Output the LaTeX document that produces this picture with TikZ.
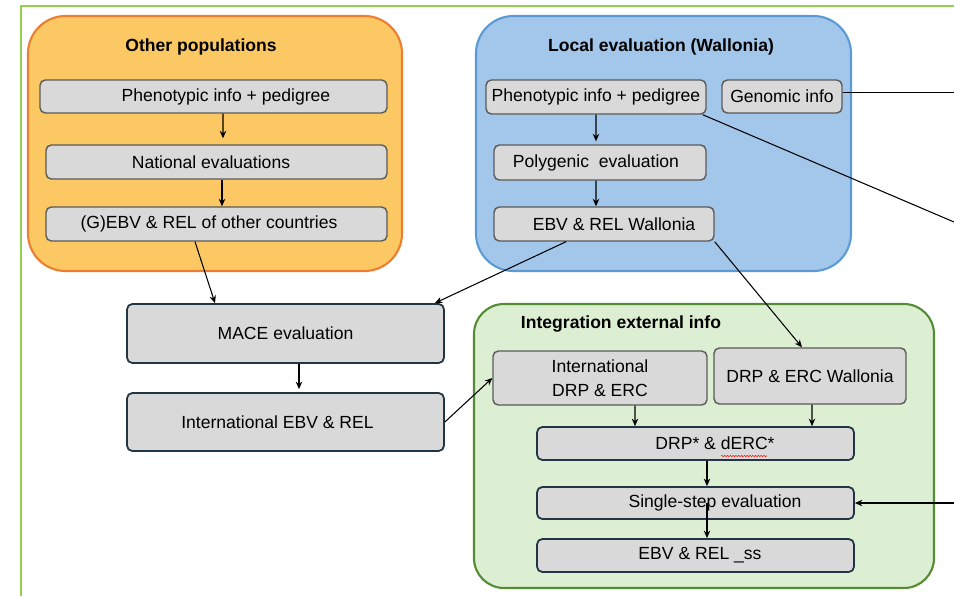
\documentclass[tikz,border=0pt]{standalone}
\usepackage{fontspec}
\setmainfont{Liberation Sans}
\usepackage{xcolor}
\usepackage{tikz}
\usetikzlibrary{arrows.meta,calc,decorations.pathmorphing}
\definecolor{framegreen}{RGB}{146,208,80}
\definecolor{popfill}{RGB}{251,200,100}
\definecolor{popedge}{RGB}{237,125,49}
\definecolor{localfill}{RGB}{163,199,234}
\definecolor{localedge}{RGB}{91,155,213}
\definecolor{integfill}{RGB}{221,239,210}
\definecolor{integedge}{RGB}{84,140,52}
\definecolor{boxgray}{RGB}{217,217,217}
\definecolor{boxedge}{RGB}{90,90,90}
\definecolor{slateedge}{RGB}{35,52,66}
\tikzset{
  frame-line/.style={draw=framegreen, line width=1.2pt},
  region-pop/.style={draw=popedge, fill=popfill, line width=1.2pt, rounded corners=0.75cm},
  region-local/.style={draw=localedge, fill=localfill, line width=1.2pt, rounded corners=0.75cm},
  region-integ/.style={draw=integedge, fill=integfill, line width=1.2pt, rounded corners=0.6cm},
  gray-node/.style={draw=boxedge, fill=boxgray, line width=0.8pt, rounded corners=3pt,
    inner xsep=2pt, inner ysep=2pt, align=center},
  slate-node/.style={gray-node, draw=slateedge, line width=1pt},
  title-text/.style={font=\bfseries},
  flow-line/.style={line width=0.6pt, draw=black},
  flow-arrow/.style={-{Stealth[length=1.5mm,width=1.3mm]}, line width=0.6pt, draw=black},
  spell-mark/.style={draw=red, line width=0.3pt, decorate,
    decoration={snake, amplitude=0.35pt, segment length=1.6pt}}
}
\begin{document}
\begin{tikzpicture}[x=0.02cm, y=-0.02cm]
\useasboundingbox (0,0) rectangle (954,596);
% Outer frame
\draw[frame-line] (21,596) -- (21,6) -- (954,6);

% Other populations
\draw[region-pop] (28,16) rectangle (402,271);
\node[title-text] (popTitle) at (201,47) {Other populations};
\node[gray-node, minimum width=6.94cm, minimum height=0.66cm] (phenO) at (213.5,96.5)
  {\hspace*{0.5cm}Phenotypic info + pedigree};
\node[gray-node, minimum width=6.82cm, minimum height=0.68cm] (natO) at (216.5,162)
  {National evaluations\hspace*{0.22cm}};
\node[gray-node, minimum width=6.82cm, minimum height=0.68cm] (gebvO) at (216.5,224)
  {(G)EBV \& REL of other countries\hspace*{0.3cm}};

% Local evaluation
\draw[region-local] (476,16) rectangle (851,271);
\node[title-text] (localTitle) at (661,47) {Local evaluation (Wallonia)};
\node[gray-node, minimum width=4.4cm, minimum height=0.68cm] (phenW) at (596,97)
  {Phenotypic info + pedigree};
\node[gray-node, minimum width=2.4cm, minimum height=0.66cm] (genW) at (782,96.5)
  {Genomic info};
\node[gray-node, minimum width=4.24cm, minimum height=0.7cm] (polyW) at (600,162.5)
  {Polygenic~ evaluation\hspace*{0.16cm}};
\node[gray-node, minimum width=4.4cm, minimum height=0.68cm] (ebvW) at (604,224)
  {\hspace*{0.4cm}EBV \& REL Wallonia};

% International evaluation
\node[slate-node, minimum width=6.34cm, minimum height=1.18cm] (mace) at (285.5,333.5)
  {MACE evaluation};
\node[slate-node, minimum width=6.34cm, minimum height=1.16cm] (intEBV) at (285.5,422)
  {International EBV \& REL\hspace*{0.32cm}};

% Integration external info
\draw[region-integ] (474,304) rectangle (934,588);
\node[title-text] (integTitle) at (621,324) {Integration external info};
\node[gray-node, minimum width=4.28cm, minimum height=1.08cm, font=\fontsize{10}{13.5}\selectfont]
  (intDRP) at (600,378) {International\\DRP \& ERC};
\node[gray-node, minimum width=3.84cm, minimum height=1.12cm] (drpW) at (810,376)
  {DRP \& ERC Wallonia};
\node[slate-node, minimum width=6.34cm, minimum height=0.66cm] (drpStar) at (695.5,443.5)
  {\hspace*{0.78cm}DRP* \& dERC*};
\node[slate-node, minimum width=6.34cm, minimum height=0.64cm] (ss) at (695.5,503)
  {\hspace*{0.78cm}Single-step evaluation};
\node[slate-node, minimum width=6.34cm, minimum height=0.66cm] (ebvSS) at (695.5,555.5)
  {\hspace*{0.18cm}EBV \& REL \_ss};
\draw[spell-mark] (721,456) -- (767,456);

% Ends at the right edge
\coordinate (genOut) at (954,92.5);
\coordinate (phenOut) at (954,222);
\coordinate (ssIn) at (954,503);

% Arrows
\draw[flow-arrow] ([xshift=0.19cm]phenO.south) -- ([xshift=0.13cm,yshift=0.12cm]natO.north);
\draw[flow-arrow] ([xshift=0.11cm]natO.south) -- ([xshift=0.11cm]gebvO.north);
\draw[flow-arrow] (phenW.south) -- ([xshift=-0.08cm,yshift=0.06cm]polyW.north);
\draw[flow-arrow] ([xshift=-0.08cm]polyW.south) -- ([xshift=-0.16cm]ebvW.north);
\draw[flow-arrow] ([xshift=-0.43cm]gebvO.south) -- ([xshift=-1.41cm]mace.north);
\draw[flow-arrow] ([xshift=-0.76cm]ebvW.south) -- ([xshift=-0.2cm]mace.north east);
\draw[flow-arrow] (ebvW.south east) -- ([xshift=-0.16cm]drpW.north);
\draw[flow-arrow] ([xshift=0.27cm]mace.south) -- ([xshift=0.27cm,yshift=0.06cm]intEBV.north);
\draw[flow-arrow] (intEBV.east) -- (intDRP.west);
\draw[flow-arrow] ([xshift=0.7cm]intDRP.south) -- ([xshift=-1.21cm]drpStar.north);
\draw[flow-arrow] ([xshift=0.04cm]drpW.south) -- ([xshift=2.33cm]drpStar.north);
\draw[flow-arrow] ([xshift=0.23cm]drpStar.south) -- ([xshift=0.23cm]ss.north);
\draw[flow-arrow] ([xshift=0.23cm]ss.center) -- ([xshift=0.23cm]ebvSS.north);
\draw[flow-line] (genW.east |- genOut) -- (genOut);
\draw[flow-line] ([xshift=-0.08cm]phenW.south east) -- (phenOut);
\draw[flow-arrow] (ssIn) -- (ss.east);
\end{tikzpicture}
\end{document}
